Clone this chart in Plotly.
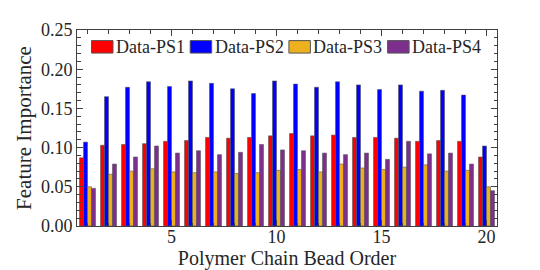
import plotly.graph_objects as go

beads = list(range(1, 21))
ps1 = [0.087, 0.103, 0.104, 0.105, 0.108, 0.109, 0.113, 0.112, 0.113, 0.115,
       0.118, 0.115, 0.116, 0.113, 0.113, 0.112, 0.108, 0.109, 0.108, 0.088]
ps2 = [0.107, 0.165, 0.177, 0.184, 0.178, 0.185, 0.182, 0.175, 0.169, 0.185,
       0.181, 0.177, 0.184, 0.180, 0.174, 0.180, 0.172, 0.173, 0.167, 0.102]
ps3 = [0.050, 0.066, 0.070, 0.073, 0.069, 0.068, 0.069, 0.067, 0.068, 0.071,
       0.072, 0.069, 0.079, 0.074, 0.072, 0.075, 0.078, 0.070, 0.071, 0.050]
ps4 = [0.048, 0.079, 0.088, 0.102, 0.093, 0.096, 0.091, 0.094, 0.104, 0.097,
       0.096, 0.093, 0.091, 0.093, 0.085, 0.108, 0.092, 0.093, 0.079, 0.045]
names = ["Data-PS1", "Data-PS2", "Data-PS3", "Data-PS4"]
colors = ["#FF0000", "#0000FF", "#EDB120", "#7E2F8E"]
xticks = [5, 10, 15, 20]

FONT = "Liberation Serif"
TXT = "#262626"
AX = "#404040"
EDGE = "#555555"

L, R, T, B = 69, 51, 20, 52
PW, PH = 540 - L - R, 270 - T - B

fig = go.Figure()
for name, vals, col in zip(names, [ps1, ps2, ps3, ps4], colors):
    fig.add_trace(go.Bar(x=beads, y=vals, name=name, showlegend=False,
                         marker=dict(color=col, line=dict(color=EDGE, width=0.6))))

# legend drawn as patches + text, laid out in a row at the top of the axes
shapes, annots = [], []
x_start, step, pw, ph, y_top = 14.5, 98.7, 21.5, 12.6, 10.7  # px, relative to plot area
for i, (name, col) in enumerate(zip(names, colors)):
    x0 = x_start + i * step
    shapes.append(dict(type="rect", xref="paper", yref="paper",
                       x0=x0 / PW, x1=(x0 + pw) / PW,
                       y0=1 - (y_top + ph) / PH, y1=1 - y_top / PH,
                       fillcolor=col, line=dict(color=EDGE, width=1), layer="above"))
    annots.append(dict(text=name, xref="paper", yref="paper",
                       x=(x0 + pw + 1) / PW, y=1 - (y_top + ph / 2) / PH,
                       xanchor="left", yanchor="middle", showarrow=False,
                       font=dict(size=18, family=FONT, color=TXT)))

fig.update_layout(
    width=540, height=270,
    margin=dict(l=L, r=R, t=T, b=B),
    paper_bgcolor="white", plot_bgcolor="white",
    barmode="group", bargap=0.24, bargroupgap=0,
    font=dict(family=FONT, color=TXT, size=18),
    shapes=shapes, annotations=annots,
)
fig.update_xaxes(
    range=[0.5, 20.5], tickmode="array", tickvals=xticks,
    ticks="inside", ticklen=6, tickwidth=1, tickcolor=AX,
    showline=True, linecolor=AX, linewidth=1, mirror="ticks",
    showgrid=False, zeroline=False, ticklabelstandoff=-6,
    tickfont=dict(size=18, family=FONT, color=TXT),
    minor=dict(tickmode="linear", tick0=0, dtick=1, ticks="inside", ticklen=3.5,
               tickcolor=AX, tickwidth=1, showgrid=False),
    title=dict(text="Polymer Chain Bead Order", font=dict(size=20, family=FONT, color=TXT), standoff=0),
)
fig.update_yaxes(
    range=[0, 0.25], tickmode="linear", tick0=0, dtick=0.05, tickformat=".2f",
    ticks="inside", ticklen=6, tickwidth=1, tickcolor=AX,
    showline=True, linecolor=AX, linewidth=1, mirror="ticks",
    showgrid=False, zeroline=False,
    tickfont=dict(size=18, family=FONT, color=TXT),
    minor=dict(tickmode="linear", tick0=0, dtick=0.01, ticks="inside", ticklen=3.5,
               tickcolor=AX, tickwidth=1, showgrid=False),
    title=dict(text="Feature Importance", font=dict(size=21, family=FONT, color=TXT), standoff=3),
)

fig.write_html("out.html")
